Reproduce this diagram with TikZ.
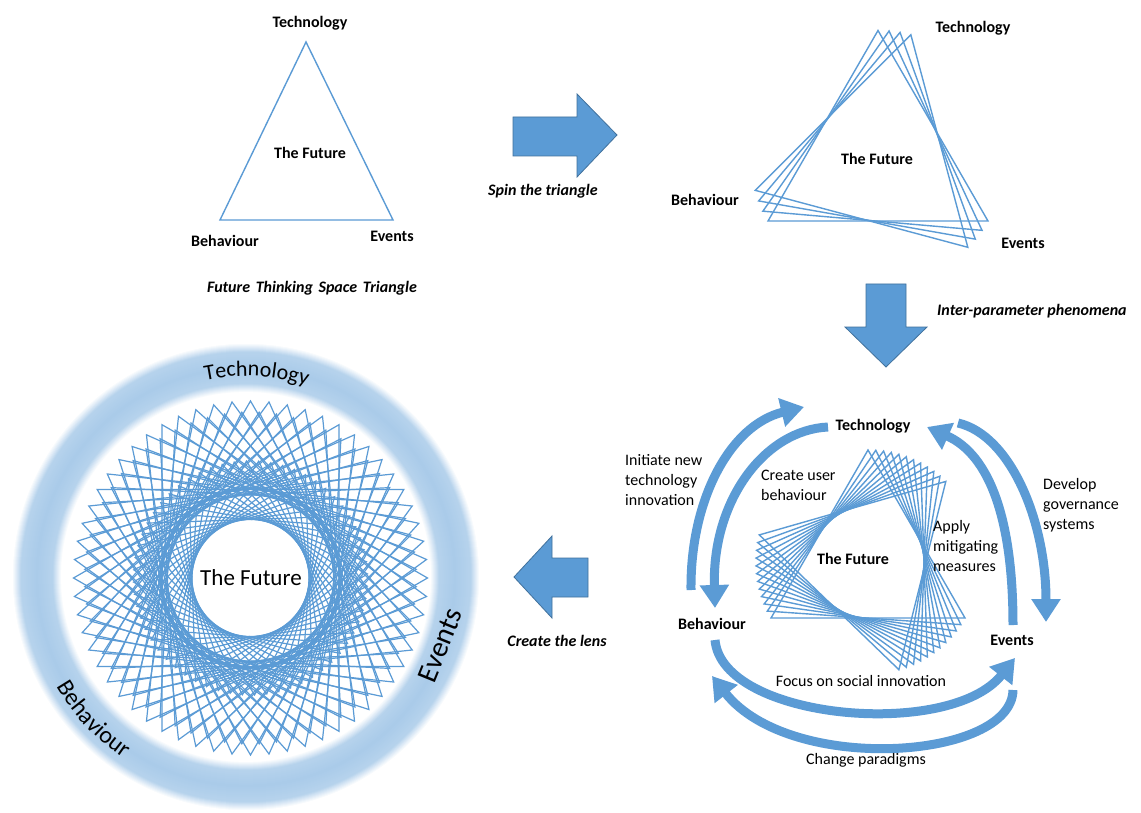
\documentclass[tikz,border=0pt]{standalone}
\usepackage{fontspec}
\setmainfont{Carlito}
\usetikzlibrary{arrows.meta,decorations.text,calc}
\definecolor{fblue}{HTML}{5B9BD5}
\definecolor{fborder}{HTML}{41719C}
\begin{document}
\begin{tikzpicture}[x=1pt,y=1pt,
  tri/.style={draw=fblue, line width=1.4pt, line join=miter},
  blockarrow/.style={fill=fblue, draw=fborder, line width=0.8pt, line join=miter},
  flow/.style={draw=fblue, line width=9pt, -{Triangle[length=23pt,width=28pt]}},
  lbl/.style={font=\bfseries\fontsize{16}{19}\selectfont, inner sep=0pt},
  txt/.style={font=\fontsize{16}{20}\selectfont, inner sep=0pt, align=left, anchor=west},
  captext/.style={font=\bfseries\itshape\fontsize{16}{19}\selectfont, inner sep=0pt},
]
\useasboundingbox (0,0) rectangle (1141,-813);
\fill[white] (0,0) rectangle (1141,-813);

% ---- Future thinking space triangle
\coordinate (t1T) at (306,-42);
\coordinate (t1B) at (220,-220);
\coordinate (t1E) at (393,-220);
\draw[tri] (t1T) -- (t1B) -- (t1E) -- cycle;
\node[lbl] (t1tech) at (310,-23) {Technology};
\node[lbl] (t1fut) at (310,-153) {The Future};
\node[lbl] (t1beh) at (225,-241) {Behaviour};
\node[lbl] (t1evt) at (392,-236) {Events};
\node[captext] (t1cap) at (312,-288) {Future\hspace{2pt} Thinking\hspace{2pt} Space\hspace{2pt} Triangle};

% ---- block arrow: spin
\draw[blockarrow] (513,-117) -- (577,-117) -- (577,-94) -- (617,-135) -- (577,-177) -- (577,-156) -- (513,-156) -- cycle;
\node[captext] (spin) at (543,-191) {Spin the triangle};

% ---- spun triangle
\foreach \a in {0,-5,-10,-15}
  \draw[tri, shift={(878,-157.5)}] ({90+\a}:127) -- ({210+\a}:127) -- ({330+\a}:127) -- cycle;
\node[lbl] (t2tech) at (973,-28) {Technology};
\node[lbl] (t2fut) at (877,-159) {The Future};
\node[lbl] (t2beh) at (705,-200) {Behaviour};
\node[lbl] (t2evt) at (1023,-243) {Events};

% ---- block arrow: down
\draw[blockarrow] (866,-284) -- (906,-284) -- (906,-327) -- (927,-327) -- (886,-367) -- (845,-327) -- (866,-327) -- cycle;
\node[captext, anchor=west] (inter) at (937,-311) {Inter-parameter phenomena};

% ---- cycle of interactions
\foreach \a in {0,-4,...,-44}
  \draw[tri, shift={(868,-562)}] ({90+\a}:112) -- ({210+\a}:112) -- ({330+\a}:112) -- cycle;
\node[lbl] (c3tech) at (873,-426) {Technology};
\node[lbl] (c3beh) at (712,-624) {Behaviour};
\node[lbl] (c3evt) at (1012,-640) {Events};
\node[lbl] (c3fut) at (853,-559) {The Future};

\coordinate (a1s) at (691,-590); \coordinate (a1e) at (804,-407);
\coordinate (a2s) at (828,-427); \coordinate (a2e) at (715,-608);
\coordinate (a3s) at (1013,-625); \coordinate (a3e) at (927,-427);
\coordinate (a4s) at (958,-423); \coordinate (a4e) at (1046,-622);
\coordinate (a5s) at (715,-640); \coordinate (a5e) at (1015,-658);
\coordinate (a6s) at (1013,-690); \coordinate (a6e) at (712,-676);
\draw[flow] (a1s) .. controls (690,-500) and (730,-425) .. (a1e);
\draw[flow] (a2s) .. controls (765,-430) and (712,-500) .. (a2e);
\draw[flow] (a3s) .. controls (1013,-520) and (990,-455) .. (a3e);
\draw[flow] (a4s) .. controls (1010,-435) and (1046,-520) .. (a4e);
\draw[flow] (a5s) .. controls (722,-720) and (950,-740) .. (a5e);
\draw[flow] (a6s) .. controls (1012,-760) and (790,-775) .. (a6e);

\node[txt] (init) at (625,-480) {Initiate new\\technology\\innovation};
\node[txt] (cub) at (761,-485) {Create user\\behaviour};
\node[txt] (apply) at (933,-546) {Apply\\mitigating\\measures};
\node[txt] (dev) at (1043,-505) {Develop\\governance\\systems};
\node[txt, anchor=center] (focus) at (861,-681) {Focus on social innovation};
\node[txt, anchor=center] (chg) at (866,-760) {Change paradigms};

% ---- block arrow: left
\draw[blockarrow] (514,-577) -- (552,-536) -- (552,-558) -- (588,-558) -- (588,-597) -- (552,-597) -- (552,-618) -- cycle;
\node[captext] (lens) at (557,-641) {Create the lens};

% ---- the lens: soft ring
\coordinate (rc) at (246,-577);
\foreach \r in {185,...,234}{
  \pgfmathsetmacro\p{min(1,(1-abs(\r-209.5)/24.5)/0.35)*(40+12*(1-abs(\r-209.5)/24.5))}
  \draw[line width=1.7pt, fblue!\p!white] (rc) circle[radius=\r];
}
% ---- the lens: spun triangles
\begin{scope}[shift={(250.5,-578)}]
\foreach \a in {0,6,...,114}{
  \draw[tri, line width=1.2pt] ({90+\a}:177) -- ({210+\a}:177) -- ({330+\a}:177) -- cycle;
  \draw[tri, line width=1.2pt] ({93+\a}:166) -- ({213+\a}:166) -- ({333+\a}:166) -- cycle;
  \draw[tri, line width=1.2pt] ({92+\a}:117) -- ({212+\a}:117) -- ({332+\a}:117) -- cycle;
}
\end{scope}
\fill[white] (251,-578) circle[radius=57];
\node[font=\fontsize{23}{28}\selectfont, inner sep=0pt] (lfut) at (251,-578) {The Future};
\path[decorate, decoration={text along path, text align=center,
  text={|\fontsize{22}{26}\selectfont|Technology}}]
  (rc) ++(102:201) arc[start angle=102, end angle=72, radius=201];
\path[decorate, decoration={text along path, text align=center,
  text={|\fontsize{24}{28}\selectfont|Behaviour}}]
  (rc) ++(207:219) arc[start angle=207, end angle=239, radius=219];
\node[rotate=68, font=\fontsize{29}{34}\selectfont, inner sep=0pt] (levt) at (440,-645) {Events};
\end{tikzpicture}
\end{document}
